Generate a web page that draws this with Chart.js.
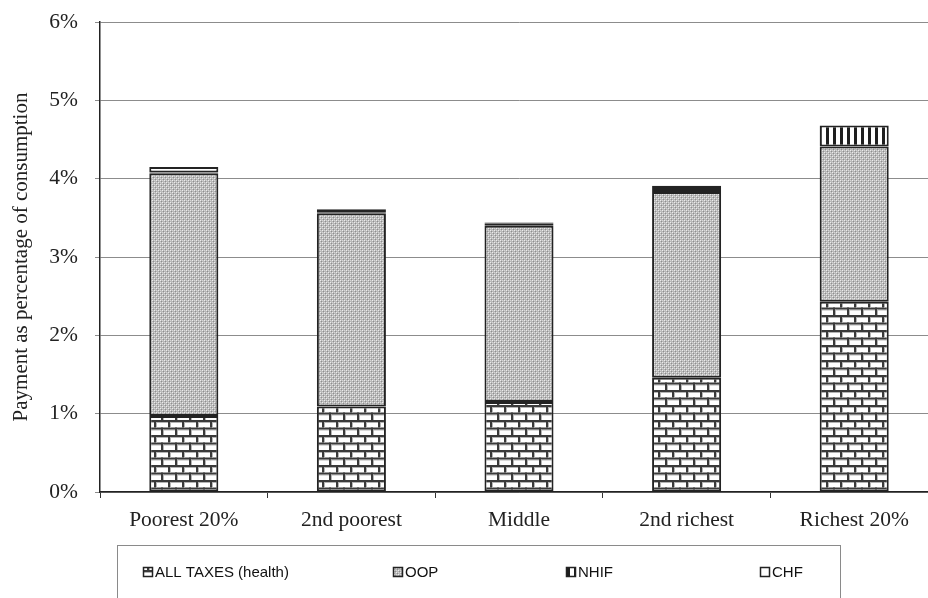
<!DOCTYPE html>
<html>
<head>
<meta charset="utf-8">
<script src="https://cdn.jsdelivr.net/npm/chart.js@4/dist/chart.umd.min.js"></script>
<style>
  html, body { margin: 0; padding: 0; background: #fff; overflow: hidden; }
  #wrap { width: 938px; height: 598px; position: relative; }
</style>
</head>
<body>
<div id="wrap"><canvas id="c"></canvas></div>
<script>
// Health payments by consumption quintile, % of consumption
const categories = ['Poorest 20%', '2nd poorest', 'Middle', '2nd richest', 'Richest 20%'];
const allTaxes = [0.97, 1.09, 1.15, 1.46, 2.43];
const oop      = [3.10, 2.47, 2.25, 2.37, 1.98];
const nhif     = [0.01, 0.01, 0.03, 0.05, 0.27];
const chf      = [0.07, 0.04, 0.01, 0.03, 0.00];
const seriesNames = ['ALL TAXES (health)', 'OOP', 'NHIF', 'CHF'];
const yTicks = [0, 1, 2, 3, 4, 5, 6];

function makeTile(w, h, draw) {
  const cv = document.createElement('canvas');
  cv.width = w; cv.height = h;
  const g = cv.getContext('2d');
  draw(g);
  return g.createPattern(cv, 'repeat');
}

// brick fill
const brick = makeTile(28, 15, g => {
  g.fillStyle = '#ffffff'; g.fillRect(0, 0, 28, 15);
  g.fillStyle = '#b5b5b5';
  g.fillRect(0, 2, 28, 1); g.fillRect(0, 9.5, 28, 1);
  g.fillStyle = '#3a3a3a';
  g.fillRect(0, 0, 28, 2); g.fillRect(0, 7.5, 28, 2);
  g.fillRect(0, 0, 2, 7.5); g.fillRect(14, 0, 2, 7.5);
  g.fillRect(7, 7.5, 2, 7.5); g.fillRect(21, 7.5, 2, 7.5);
  g.fillStyle = '#b5b5b5';
  g.fillRect(2, 2, 1, 5.5); g.fillRect(16, 2, 1, 5.5);
  g.fillRect(9, 9.5, 1, 5.5); g.fillRect(23, 9.5, 1, 5.5);
});

// fine dotted grey fill
const dots = makeTile(4, 4, g => {
  g.fillStyle = '#b8b8b8'; g.fillRect(0, 0, 4, 4);
  g.fillStyle = '#ececec'; g.fillRect(0, 0, 1, 1); g.fillRect(2, 2, 1, 1);
  g.fillStyle = '#8e8e8e'; g.fillRect(1, 1, 1, 1); g.fillRect(3, 3, 1, 1);
  g.fillStyle = '#d6d6d6'; g.fillRect(2, 0, 1, 1); g.fillRect(0, 2, 1, 1);
});

// vertical stripes
const stripes = makeTile(7, 1, g => {
  g.fillStyle = '#ffffff'; g.fillRect(0, 0, 7, 1);
  g.fillStyle = '#1e1e1e'; g.fillRect(0, 0, 3, 1);
});

const fills = [brick, dots, stripes, '#ffffff'];

// legend row below the axis
const legendMarkersX = [143, 393, 566, 760];
const legendBox = {
  id: 'legendBox',
  afterDraw(chart) {
    const ctx = chart.ctx;
    ctx.save();
    ctx.strokeStyle = '#8a8a8a';
    ctx.lineWidth = 1;
    ctx.strokeRect(117.5, 545.5, 723, 70);
    ctx.font = '15px "Liberation Sans", Arial, sans-serif';
    ctx.fillStyle = '#111';
    ctx.textBaseline = 'middle';
    seriesNames.forEach((name, i) => {
      const x = legendMarkersX[i];
      const y = 567;
      ctx.fillStyle = fills[i];
      ctx.fillRect(x, y, 10, 10);
      ctx.strokeStyle = '#222';
      ctx.lineWidth = 1.5;
      ctx.strokeRect(x + 0.5, y + 0.5, 9, 9);
      ctx.fillStyle = '#111';
      ctx.fillText(name, x + 12, y + 5.5);
    });
    ctx.restore();
  }
};

const datasets = [allTaxes, oop, nhif, chf].map((arr, i) => ({
  label: seriesNames[i],
  data: arr,
  backgroundColor: fills[i],
  borderColor: '#232323',
  borderWidth: 2,
  borderSkipped: false,
  categoryPercentage: 1,
  barPercentage: 0.412
}));

const serif = '"Liberation Serif", "Times New Roman", serif';

new Chart(document.getElementById('c'), {
  type: 'bar',
  data: { labels: categories, datasets },
  options: {
    responsive: true,
    maintainAspectRatio: false,
    animation: false,
    layout: { padding: { top: 22, right: 0, left: 0, bottom: 0 } },
    plugins: { legend: { display: false }, tooltip: { enabled: false } },
    scales: {
      x: {
        stacked: true,
        grid: { display: true, drawOnChartArea: false, drawTicks: true, tickLength: 6, color: '#333', offset: true },
        border: { display: true, color: '#222', width: 1.5 },
        ticks: { color: '#222', font: { family: serif, size: 21.5 }, padding: 9 },
        afterFit(s) { s.height = 106; s.paddingLeft = 0; s.paddingRight = 0; }
      },
      y: {
        stacked: true,
        min: 0, max: 6,
        afterBuildTicks(s) { s.ticks = yTicks.map(v => ({ value: v })); },
        grid: { color: '#8c8c8c', lineWidth: 1, tickLength: 5 },
        border: { display: true, color: '#222', width: 1.5 },
        ticks: {
          color: '#222',
          font: { family: serif, size: 21.5 },
          padding: 17,
          callback: v => v + '%'
        },
        title: {
          display: true,
          text: 'Payment as percentage of consumption',
          color: '#222',
          font: { family: serif, size: 21 },
          padding: { top: 9, bottom: 6 }
        },
        afterFit(s) { s.width = 100; s.paddingTop = 0; s.paddingBottom = 0; }
      }
    }
  },
  plugins: [legendBox]
});
</script>
</body>
</html>
